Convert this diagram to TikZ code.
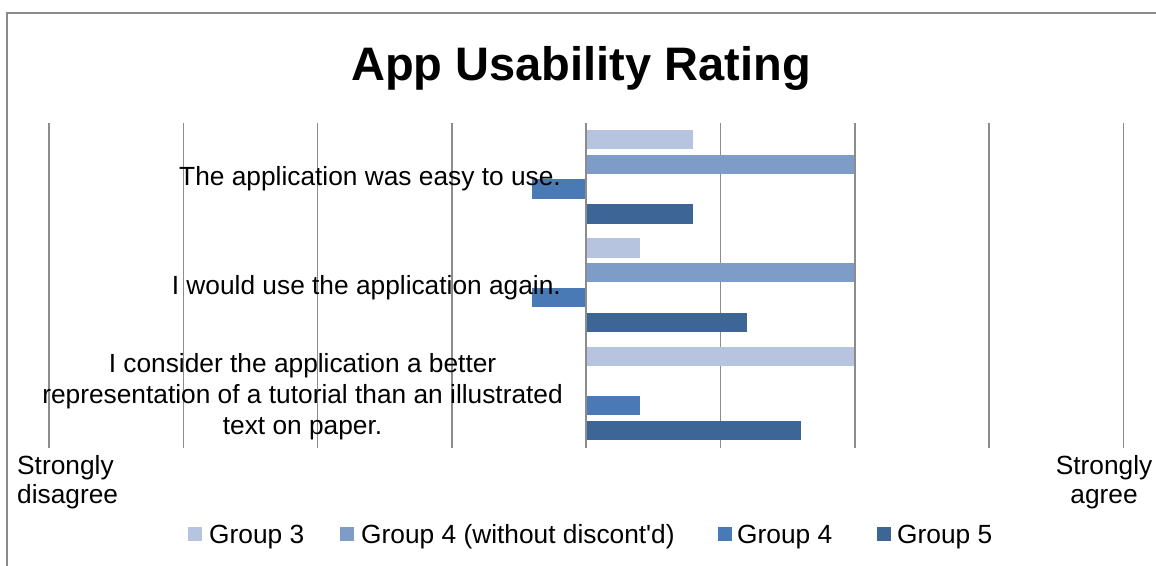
\documentclass[tikz,border=0pt]{standalone}
\usepackage{fontspec}
\setmainfont{Liberation Sans}
\definecolor{gA}{HTML}{B7C4E0}
\definecolor{gB}{HTML}{7E9CC8}
\definecolor{gC}{HTML}{4A7AB5}
\definecolor{gD}{HTML}{3D6596}
\definecolor{gridc}{HTML}{8C8C8C}
\definecolor{framec}{HTML}{8A8A8A}
\begin{document}
\begin{tikzpicture}[x=1pt,y=-1pt,
  lbl/.style={inner sep=0pt,font=\fontsize{26.3}{31}\selectfont,text=black},
  gridln/.style={draw=gridc,line width=1.6pt},
  barA/.style={fill=gA},
  barB/.style={fill=gB},
  barC/.style={fill=gC},
  barD/.style={fill=gD},
  legsq/.style={minimum width=14pt,minimum height=14pt,inner sep=0pt,anchor=west}]
\useasboundingbox (0,0) rectangle (1156,565);
\fill[white] (0,0) rectangle (1156,565);
% frame
\draw[framec,line width=1.4pt] (7,566) -- (7,13) -- (1157,13);
% title
\node[inner sep=0pt,anchor=base,font=\fontsize{47}{56}\selectfont\bfseries] (title) at (581,80) {App Usability Rating};
% gridlines
\foreach \k in {0,...,8}{
  \coordinate (gt\k) at ({49+134.3*\k},122.7);
  \coordinate (gb\k) at ({49+134.3*\k},448);
  \draw[gridln] (gt\k) -- (gb\k);
}
% bars category 1
\fill[barA] (587,130) rectangle (693.4,149.3);
\fill[barB] (587,154.7) rectangle (854,174);
\fill[barC] (532.3,179.3) rectangle (585.4,198.7);
\fill[barD] (587,204.3) rectangle (693.4,223.7);
% bars category 2
\fill[barA] (587,238.3) rectangle (639.7,257.7);
\fill[barB] (587,263) rectangle (854,282.4);
\fill[barC] (532.3,287.7) rectangle (585.4,307);
\fill[barD] (587,312.7) rectangle (747.2,332);
% bars category 3
\fill[barA] (587,346.7) rectangle (854,366);
\fill[barC] (587,396) rectangle (639.7,415.4);
\fill[barD] (587,421) rectangle (800.9,440.4);
% category labels
\node[lbl,anchor=base east] (c1) at (561,185) {The application was easy to use.};
\node[lbl,anchor=base east] (c2) at (561,294) {I would use the application again.};
\node[lbl,anchor=east,align=center] (c3) at (563,396.5) {I consider the application a better\\representation of a tutorial than an illustrated\\text on paper.};
% axis end labels
\node[lbl,anchor=base west,align=left,font=\fontsize{26.3}{29}\selectfont] (sd) at (17,503) {Strongly\\disagree};
\node[lbl,anchor=base,align=center,font=\fontsize{26.3}{29}\selectfont] (sa) at (1104,503) {Strongly\\agree};
% legend
\node[legsq,fill=gA] (l1) at (188,534) {};
\node[lbl,anchor=base west] (t1) at (209,543.5) {Group 3};
\node[legsq,fill=gB] (l2) at (340,534) {};
\node[lbl,anchor=base west] (t2) at (361,543.5) {Group 4 (without discont\textquotesingle d)};
\node[legsq,fill=gC] (l3) at (718,534) {};
\node[lbl,anchor=base west] (t3) at (737,543.5) {Group 4};
\node[legsq,fill=gD] (l4) at (877,534) {};
\node[lbl,anchor=base west] (t4) at (897,543.5) {Group 5};
\end{tikzpicture}
\end{document}
